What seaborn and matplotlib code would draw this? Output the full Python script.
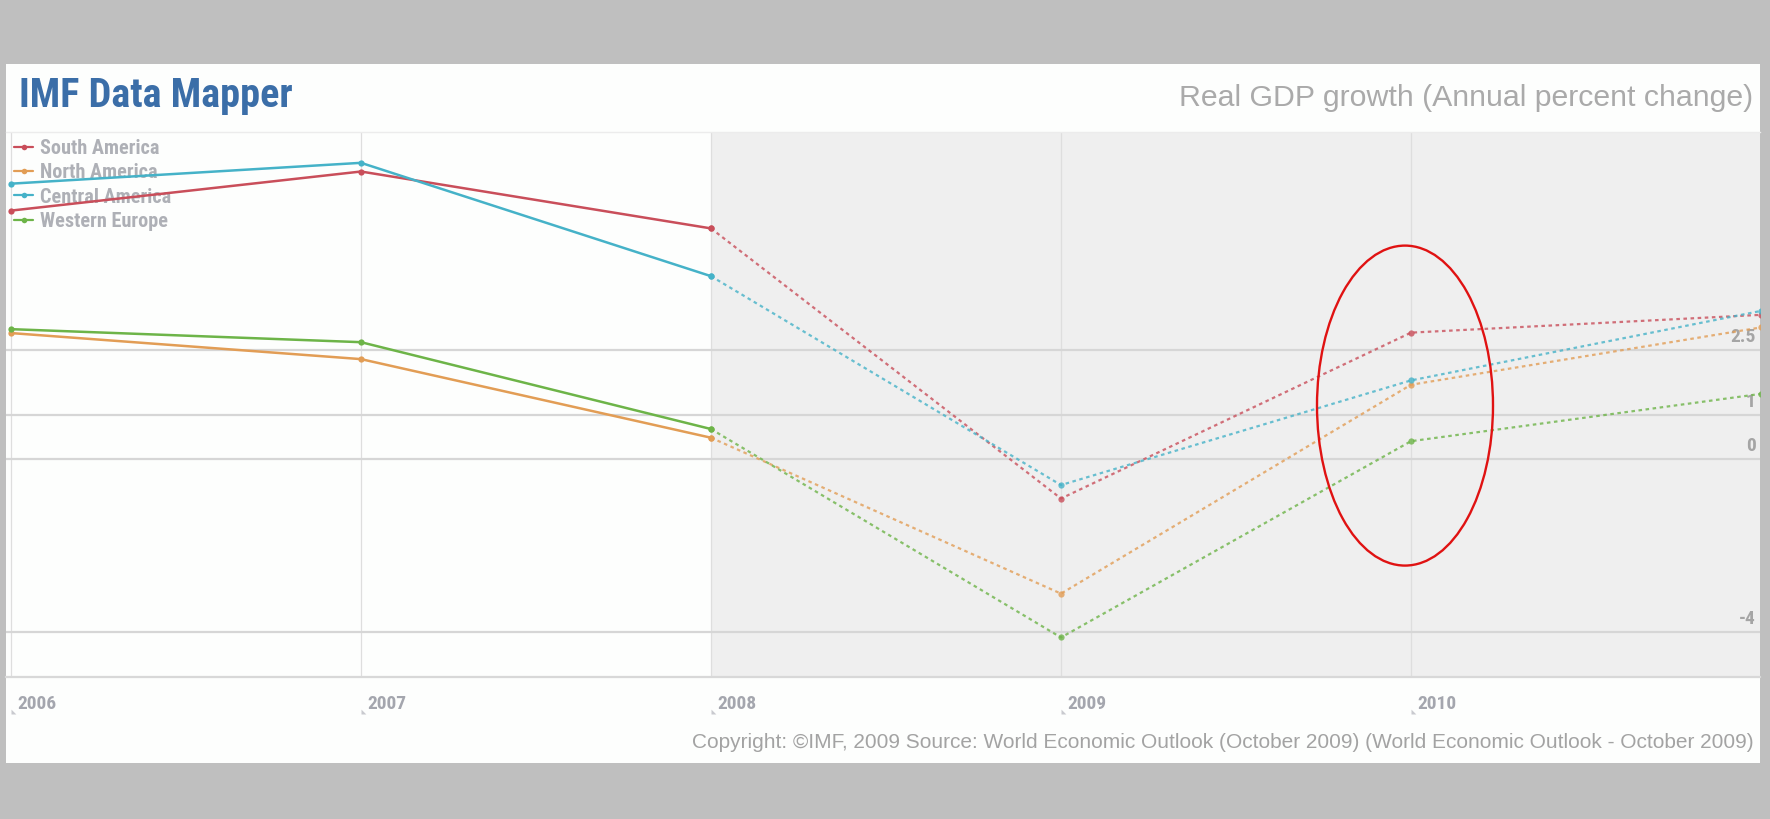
import matplotlib
matplotlib.use("Agg")
import matplotlib.pyplot as plt
import matplotlib.transforms as mtransforms
from matplotlib.patches import Rectangle, Ellipse
from matplotlib.lines import Line2D
from matplotlib import font_manager as fm
import seaborn as sns
import pandas as pd

# ---------------- data ----------------
years = [2006, 2007, 2008, 2009, 2010, 2011]
regions = ["South America", "North America", "Central America", "Western Europe"]
south_america = [5.71, 6.61, 5.30, -0.92, 2.90, 3.31]
north_america = [2.89, 2.29, 0.48, -3.11, 1.70, 3.02]
central_america = [6.33, 6.81, 4.20, -0.61, 1.80, 3.40]
western_europe = [2.98, 2.68, 0.68, -4.12, 0.40, 1.49]
last_actual_year = 2008
ytick_values = [-4, 0, 1, 2.5]
ytick_labels = ["-4", "0", "1", "2.5"]
colors = ["#c94e5a", "#e29d55", "#45b2c8", "#6db448"]

title = "IMF Data Mapper"
subtitle = "Real GDP growth (Annual percent change)"
copyright_text = ("Copyright: \u00a9IMF, 2009 Source: World Economic Outlook (October 2009) "
                  "(World Economic Outlook - October 2009)")

series = {
    "South America": south_america,
    "North America": north_america,
    "Central America": central_america,
    "Western Europe": western_europe,
}
df = pd.DataFrame(
    [(r, y, v) for r in regions for y, v in zip(years, series[r])],
    columns=["region", "year", "value"],
)
df_actual = df[df["year"] <= last_actual_year]
df_proj = df[df["year"] >= last_actual_year]
palette = dict(zip(regions, colors))

# ---------------- fonts ----------------
sns.set_theme(style="white")
names = {f.name for f in fm.fontManager.ttflist}
narrow = next((n for n in ["Liberation Sans Narrow", "Roboto Condensed", "Arial Narrow"]
               if n in names), "Liberation Sans")
plt.rcParams["font.family"] = ["Liberation Sans", "DejaVu Sans"]
narrow_fam = [narrow, "Liberation Sans", "DejaVu Sans"]

W, H = 1770, 819
fig = plt.figure(figsize=(W / 100, H / 100), dpi=100, facecolor="#bfbfbf")

# white panel
fig.patches.append(Rectangle((6 / W, (H - 763) / H), 1754 / W, (763 - 64) / H,
                             transform=fig.transFigure, facecolor="#fdfefd",
                             edgecolor="none", zorder=-10))

ax = fig.add_axes([6 / W, (H - 677) / H, 1754 / W, 545 / H])
ax.set_facecolor("#fdfefd")
ax.set_axisbelow(True)

xmin, xmax = 2006 - 5 / 350, 2011 - 1 / 350
ax.set_xlim(xmin, xmax)
ax.set_ylim(-5.03, 7.52)

# projection shading
ax.axvspan(last_actual_year, xmax, color="#efefef", zorder=0.1, lw=0)

# lines
sns.lineplot(data=df_actual, x="year", y="value", hue="region", hue_order=regions,
             palette=palette, estimator=None, sort=False, marker="o", markersize=4.5,
             markeredgewidth=0, lw=1.8, legend=False, ax=ax, zorder=3)
sns.lineplot(data=df_proj, x="year", y="value", hue="region", hue_order=regions,
             palette=palette, estimator=None, sort=False, marker="o", markersize=4.5,
             markeredgewidth=0, lw=1.6, linestyle=(0, (1.6, 1.6)), alpha=0.8,
             legend=False, ax=ax, zorder=3)

# grid and axes
ax.set_xticks(years[:-1])
ax.set_xticklabels([str(y) for y in years[:-1]])
ax.set_yticks(ytick_values)
ax.set_yticklabels(ytick_labels)
ax.grid(axis="y", color="#d6d6d6", lw=1.6)
ax.grid(axis="x", color="#dedede", lw=0.9)
for side in ["left", "right"]:
    ax.spines[side].set_visible(False)
ax.spines["top"].set_color("#ececec")
ax.spines["top"].set_linewidth(1.0)
ax.spines["bottom"].set_color("#d8d8d8")
ax.spines["bottom"].set_linewidth(1.6)
ax.set_xlabel("")
ax.set_ylabel("")

ax.yaxis.tick_right()
ax.tick_params(axis="y", length=0, pad=-3, labelsize=14, labelcolor="#a5a5a5")
ax.tick_params(axis="x", length=0, pad=13, labelsize=14, labelcolor="#a4a6ae")
for lbl in ax.get_yticklabels():
    lbl.set_ha("right")
    lbl.set_va("bottom")
    lbl.set_family(narrow_fam)
    lbl.set_fontweight("bold")
    lbl.set_transform(lbl.get_transform() + mtransforms.ScaledTranslation(0, 4 / 100, fig.dpi_scale_trans))
for lbl in ax.get_xticklabels():
    lbl.set_ha("left")
    lbl.set_family(narrow_fam)
    lbl.set_fontweight("bold")
    lbl.set_transform(lbl.get_transform() + mtransforms.ScaledTranslation(6 / 100, 0, fig.dpi_scale_trans))

# little corner marks at each year
corner = [(0, 0), (0, 1), (1, 0), (0, 0)]
trans = mtransforms.blended_transform_factory(ax.transData, ax.transAxes)
ax.plot(years[:-1], [-37 / 545] * (len(years) - 1), ls="none", marker=corner,
        markersize=7, color="#c9cacf", markeredgewidth=0, transform=trans, clip_on=False)

# legend
handles = [Line2D([0], [0], color=c, lw=1.6, marker="o", markersize=4, markeredgewidth=0)
           for c in colors]
leg = ax.legend(handles, regions, loc="upper left", bbox_to_anchor=(14 / W, (H - 139) / H),
                bbox_transform=fig.transFigure, frameon=False, borderpad=0, borderaxespad=0,
                handlelength=0.95, handletextpad=0.35, labelspacing=0.26,
                prop=fm.FontProperties(family=narrow_fam, weight="bold", size=14.6))
for t in leg.get_texts():
    t.set_color("#aeb0b6")
leg.set_zorder(2)

# annotation ellipse around 2010
ax.add_patch(Ellipse((2010 - 6 / 350, 1.22), width=176 / 350, height=320 / 43.43,
                     fill=False, edgecolor="#e01212", lw=1.7, zorder=5, clip_on=False))

# header and footer texts
fig.text(19 / W, (H - 107) / H, title, ha="left", va="baseline", fontsize=29,
         fontweight="bold", color="#3b6ea8", family=narrow_fam)
fig.text(1753 / W, (H - 106) / H, subtitle, ha="right", va="baseline", fontsize=21.8,
         color="#aaaaaa")
fig.text(1754 / W, (H - 742) / H, copyright_text, ha="right", va="center", fontsize=15,
         color="#a3a3a3")

fig.savefig("out.png", dpi=100, facecolor=fig.get_facecolor())
